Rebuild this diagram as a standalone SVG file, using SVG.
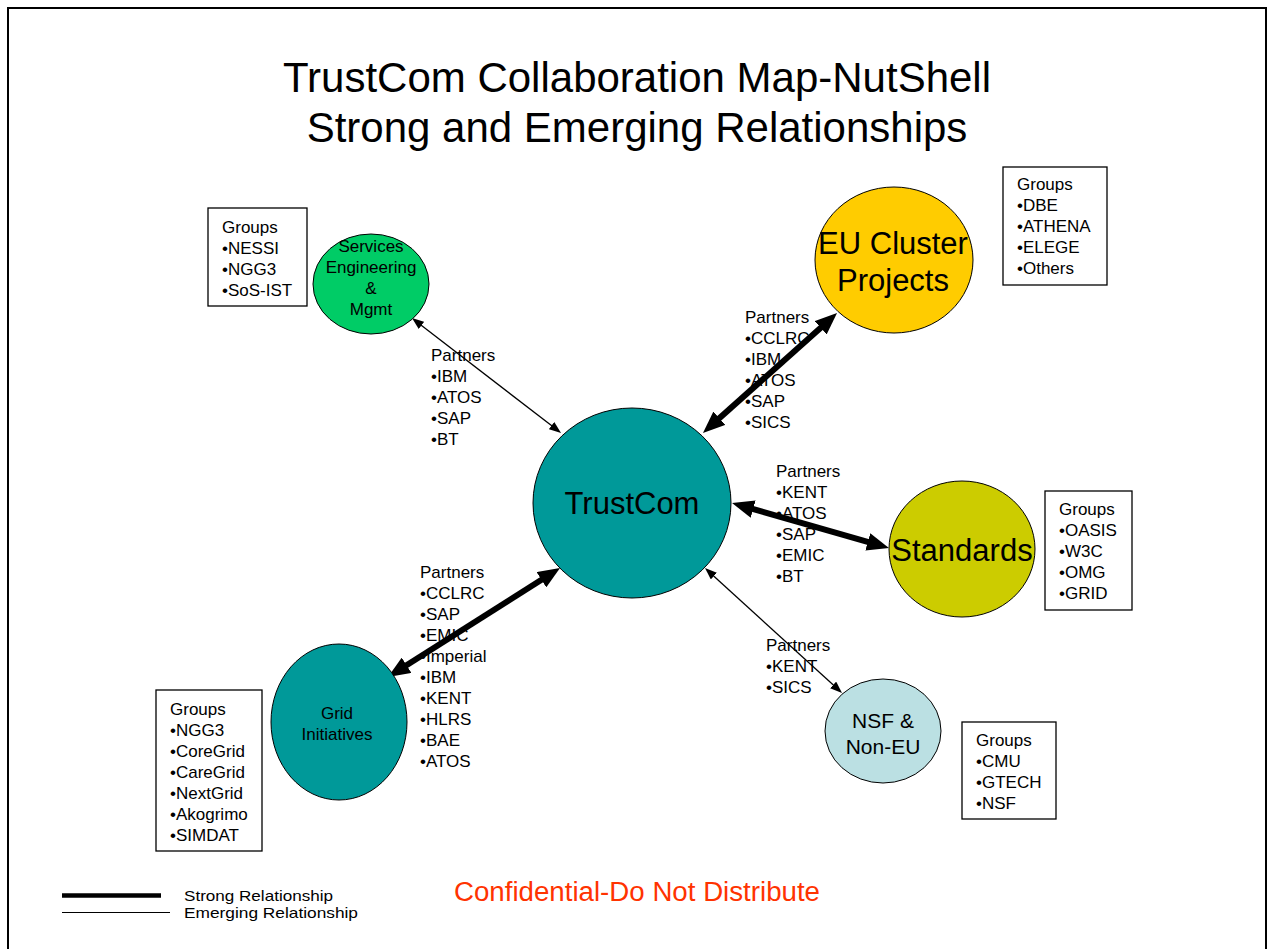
<svg xmlns="http://www.w3.org/2000/svg" width="1268" height="949" viewBox="0 0 1268 949">
  <style>
    text { font-family: "Liberation Sans", Arial, sans-serif; fill: #000; }
    .title { font-size: 42px; text-anchor: middle; }
    .list { font-size: 17px; }
    .mid { text-anchor: middle; }
    .node { stroke: #000; stroke-width: 1; }
    .box { fill: #fff; stroke: #000; stroke-width: 1.3; }
    .strong { stroke: #000; stroke-width: 6; fill: none; marker-start: url(#headBig); marker-end: url(#headBig); }
    .weak { stroke: #000; stroke-width: 1.3; fill: none; marker-start: url(#headSmall); marker-end: url(#headSmall); }
  </style>
  <defs>
    <marker id="headBig" viewBox="0 0 22 18" refX="8" refY="9" markerWidth="22" markerHeight="18" markerUnits="userSpaceOnUse" orient="auto-start-reverse">
      <path d="M0,0 L22,9 L0,18 z" fill="#000"/>
    </marker>
    <marker id="headSmall" viewBox="0 0 12 9" refX="4" refY="4.5" markerWidth="12" markerHeight="9" markerUnits="userSpaceOnUse" orient="auto-start-reverse">
      <path d="M0,0 L12,4.5 L0,9 z" fill="#000"/>
    </marker>
  </defs>

  <rect width="1268" height="949" fill="#fff"/>
  <!-- page frame -->
  <rect x="8" y="8" width="1258" height="980" fill="none" stroke="#000" stroke-width="2"/>

  <!-- heading -->
  <g id="heading">
    <text class="title" x="637" y="92">TrustCom Collaboration Map-NutShell</text>
    <text class="title" x="637" y="142">Strong and Emerging Relationships</text>
  </g>

  <!-- connectors -->
  <g id="connectors">
    <line class="weak" x1="554.7" y1="428.1" x2="418.3" y2="322.9"/>
    <line class="strong" x1="713.4" y1="423.6" x2="826.6" y2="322.4"/>
    <line class="strong" x1="745.5" y1="506.9" x2="875.5" y2="544.1"/>
    <line class="strong" x1="548.2" y1="575.5" x2="399.8" y2="669.5"/>
    <line class="weak" x1="710.9" y1="573.4" x2="836.1" y2="687.6"/>
  </g>

  <!-- central node -->
  <g id="trustcom">
    <ellipse class="node" cx="632" cy="503" rx="99" ry="95" fill="#009999"/>
    <text class="mid" x="632" y="514" font-size="31">TrustCom</text>
  </g>

  <!-- Services Engineering & Mgmt -->
  <g id="services">
    <ellipse class="node" cx="371" cy="284" rx="58" ry="50" fill="#00CC66"/>
    <text class="list mid" x="371" y="252">Services</text>
    <text class="list mid" x="371" y="273">Engineering</text>
    <text class="list mid" x="371" y="294">&amp;</text>
    <text class="list mid" x="371" y="315">Mgmt</text>
  </g>
  <g id="services-groups">
    <rect class="box" x="208" y="208" width="99" height="98"/>
    <text class="list" x="222" y="233">Groups</text>
    <text class="list" x="222" y="254">•NESSI</text>
    <text class="list" x="222" y="275">•NGG3</text>
    <text class="list" x="222" y="296">•SoS-IST</text>
  </g>
  <g id="services-partners">
    <text class="list" x="431" y="361">Partners</text>
    <text class="list" x="431" y="382">•IBM</text>
    <text class="list" x="431" y="403">•ATOS</text>
    <text class="list" x="431" y="424">•SAP</text>
    <text class="list" x="431" y="445">•BT</text>
  </g>

  <!-- EU Cluster Projects -->
  <g id="eu-cluster">
    <ellipse class="node" cx="894" cy="260" rx="79" ry="73" fill="#FFCC00"/>
    <text class="mid" x="893" y="254" font-size="31">EU Cluster</text>
    <text class="mid" x="893" y="291" font-size="31">Projects</text>
  </g>
  <g id="eu-groups">
    <rect class="box" x="1003" y="167" width="104" height="118"/>
    <text class="list" x="1017" y="190">Groups</text>
    <text class="list" x="1017" y="211">•DBE</text>
    <text class="list" x="1017" y="232">•ATHENA</text>
    <text class="list" x="1017" y="253">•ELEGE</text>
    <text class="list" x="1017" y="274">•Others</text>
  </g>
  <g id="eu-partners">
    <text class="list" x="745" y="323">Partners</text>
    <text class="list" x="745" y="344">•CCLRC</text>
    <text class="list" x="745" y="365">•IBM</text>
    <text class="list" x="745" y="386">•ATOS</text>
    <text class="list" x="745" y="407">•SAP</text>
    <text class="list" x="745" y="428">•SICS</text>
  </g>

  <!-- Standards -->
  <g id="standards">
    <ellipse class="node" cx="962" cy="549" rx="73" ry="68" fill="#CCCC00"/>
    <text class="mid" x="962" y="561" font-size="31">Standards</text>
  </g>
  <g id="standards-groups">
    <rect class="box" x="1045" y="491" width="87" height="119"/>
    <text class="list" x="1059" y="515">Groups</text>
    <text class="list" x="1059" y="536">•OASIS</text>
    <text class="list" x="1059" y="557">•W3C</text>
    <text class="list" x="1059" y="578">•OMG</text>
    <text class="list" x="1059" y="599">•GRID</text>
  </g>
  <g id="standards-partners">
    <text class="list" x="776" y="477">Partners</text>
    <text class="list" x="776" y="498">•KENT</text>
    <text class="list" x="776" y="519">•ATOS</text>
    <text class="list" x="776" y="540">•SAP</text>
    <text class="list" x="776" y="561">•EMIC</text>
    <text class="list" x="776" y="582">•BT</text>
  </g>

  <!-- Grid Initiatives -->
  <g id="grid">
    <ellipse class="node" cx="339" cy="722" rx="68" ry="78" fill="#009999"/>
    <text class="list mid" x="337" y="719">Grid</text>
    <text class="list mid" x="337" y="740">Initiatives</text>
  </g>
  <g id="grid-groups">
    <rect class="box" x="156" y="690" width="106" height="161"/>
    <text class="list" x="170" y="715">Groups</text>
    <text class="list" x="170" y="736">•NGG3</text>
    <text class="list" x="170" y="757">•CoreGrid</text>
    <text class="list" x="170" y="778">•CareGrid</text>
    <text class="list" x="170" y="799">•NextGrid</text>
    <text class="list" x="170" y="820">•Akogrimo</text>
    <text class="list" x="170" y="841">•SIMDAT</text>
  </g>
  <g id="grid-partners">
    <text class="list" x="420" y="578">Partners</text>
    <text class="list" x="420" y="599">•CCLRC</text>
    <text class="list" x="420" y="620">•SAP</text>
    <text class="list" x="420" y="641">•EMIC</text>
    <text class="list" x="420" y="662">•Imperial</text>
    <text class="list" x="420" y="683">•IBM</text>
    <text class="list" x="420" y="704">•KENT</text>
    <text class="list" x="420" y="725">•HLRS</text>
    <text class="list" x="420" y="746">•BAE</text>
    <text class="list" x="420" y="767">•ATOS</text>
  </g>

  <!-- NSF & Non-EU -->
  <g id="nsf">
    <ellipse class="node" cx="883" cy="731" rx="58" ry="52" fill="#BBE0E3"/>
    <text class="mid" x="883" y="728" font-size="21">NSF &amp;</text>
    <text class="mid" x="883" y="754" font-size="21">Non-EU</text>
  </g>
  <g id="nsf-groups">
    <rect class="box" x="962" y="722" width="94" height="97"/>
    <text class="list" x="976" y="746">Groups</text>
    <text class="list" x="976" y="767">•CMU</text>
    <text class="list" x="976" y="788">•GTECH</text>
    <text class="list" x="976" y="809">•NSF</text>
  </g>
  <g id="nsf-partners">
    <text class="list" x="766" y="651">Partners</text>
    <text class="list" x="766" y="672">•KENT</text>
    <text class="list" x="766" y="693">•SICS</text>
  </g>

  <!-- legend -->
  <g id="legend">
    <line x1="62" y1="895.5" x2="161" y2="895.5" stroke="#000" stroke-width="4.5"/>
    <line x1="62" y1="912.5" x2="170" y2="912.5" stroke="#000" stroke-width="1"/>
    <text x="184" y="901" font-size="15" textLength="149" lengthAdjust="spacingAndGlyphs">Strong Relationship</text>
    <text x="184" y="918" font-size="15" textLength="174" lengthAdjust="spacingAndGlyphs">Emerging Relationship</text>
  </g>

  <g id="notice">
    <text x="454" y="901" font-size="27" style="fill:#FF3300" textLength="366" lengthAdjust="spacingAndGlyphs">Confidential-Do Not Distribute</text>
  </g>
</svg>
